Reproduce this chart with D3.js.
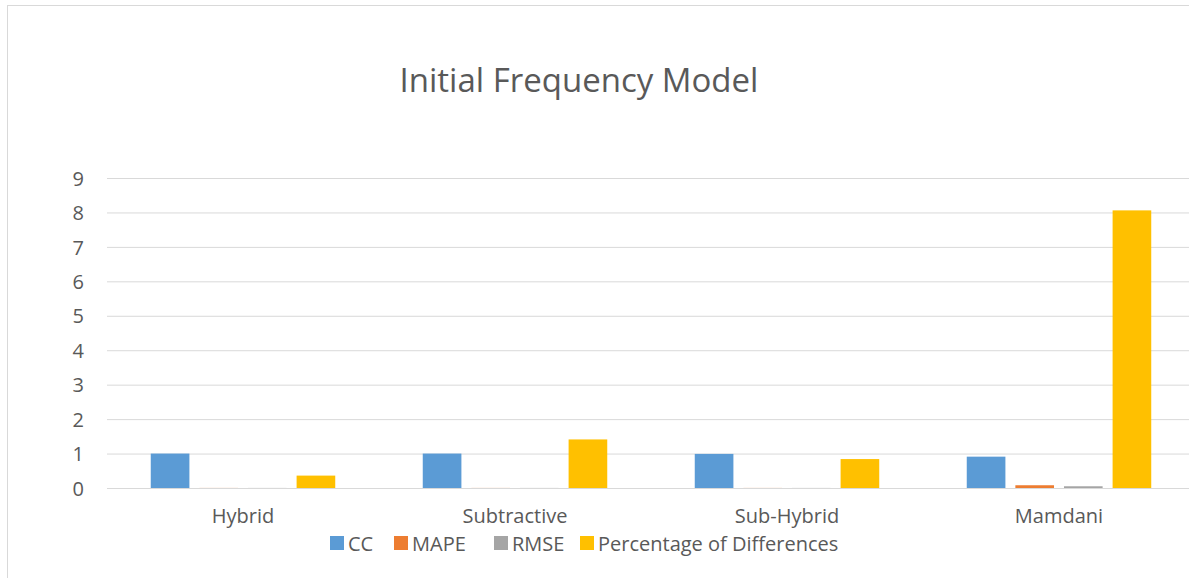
<!DOCTYPE html>
<html>
<head>
<meta charset="utf-8">
<script src="https://cdn.jsdelivr.net/npm/d3@7"></script>
<style>
  html, body { margin: 0; padding: 0; background: #fff; }
  svg { display: block; }
  text { font-family: "Open Sans", Lato, sans-serif; fill: #595959; }
</style>
</head>
<body>
<svg id="chart" width="1189" height="578"></svg>
<script>
// Model names along the x axis
const categories = ["Hybrid", "Subtractive", "Sub-Hybrid", "Mamdani"];
// Metric series
const seriesNames = ["CC", "MAPE", "RMSE", "Percentage of Differences"];
const ccValues = [1.0, 1.0, 0.99, 0.91];
const mapeValues = [0.002, 0.002, 0.002, 0.08];
const rmseValues = [0.002, 0.002, 0.002, 0.05];
const pctDiffValues = [0.36, 1.41, 0.84, 8.06];
const yTicks = [0, 1, 2, 3, 4, 5, 6, 7, 8, 9];
const colors = ["#5B9BD5", "#ED7D31", "#A5A5A5", "#FFC000"];

const seriesValues = [ccValues, mapeValues, rmseValues, pctDiffValues];
const rows = categories.map((c, i) => ({
  category: c,
  values: seriesNames.map((s, j) => ({ series: s, value: seriesValues[j][i], color: colors[j] }))
}));

const svg = d3.select("#chart");
const font = "'Open Sans', Lato, sans-serif";

// Outer chart frame
svg.append("rect")
  .attr("x", 7.5).attr("y", 5.5)
  .attr("width", 1200).attr("height", 600)
  .attr("fill", "none").attr("stroke", "#D9D9D9").attr("stroke-width", 1);

const plot = { left: 107, right: 1195, top: 178, bottom: 488 };

const x = d3.scaleBand()
  .domain(categories)
  .range([plot.left, plot.right])
  .paddingInner(0).paddingOuter(0);

const xInner = d3.scaleBand()
  .domain(seriesNames)
  .range([0, x.bandwidth()])
  .paddingInner(0.205)
  .paddingOuter(0.9);

const y = d3.scaleLinear().domain([0, 9]).range([plot.bottom, plot.top]);

// Gridlines
svg.append("g")
  .selectAll("line")
  .data(yTicks)
  .join("line")
  .attr("x1", plot.left).attr("x2", plot.right)
  .attr("y1", d => y(d) + 0.5).attr("y2", d => y(d) + 0.5)
  .attr("stroke", "#D9D9D9").attr("stroke-width", 1);

// Y axis labels
const yAxis = d3.axisLeft(y).tickValues(yTicks).tickSize(0).tickPadding(0);
const gy = svg.append("g").attr("transform", `translate(${plot.left - 23},0)`).call(yAxis);
gy.select(".domain").remove();
gy.selectAll("text")
  .attr("font-size", 20).attr("dy", "0.36em")
  .style("font-family", font).style("fill", "#595959");

// Bars
const groups = svg.append("g")
  .selectAll("g")
  .data(rows)
  .join("g")
  .attr("transform", d => `translate(${x(d.category)},0)`);

groups.selectAll("rect")
  .data(d => d.values)
  .join("rect")
  .attr("x", d => xInner(d.series))
  .attr("width", xInner.bandwidth())
  .attr("y", d => y(d.value))
  .attr("height", d => y(0) - y(d.value))
  .attr("fill", d => d.color);

// X axis labels
const xAxis = d3.axisBottom(x).tickSize(0).tickPadding(0);
const gx = svg.append("g").attr("transform", `translate(0,${plot.bottom + 35})`).call(xAxis);
gx.select(".domain").remove();
gx.selectAll("text")
  .attr("font-size", 20).attr("dy", 0)
  .style("font-family", font).style("fill", "#595959");

// Title
svg.append("text")
  .attr("x", 579).attr("y", 92)
  .attr("text-anchor", "middle")
  .attr("font-size", 33)
  .text("Initial Frequency Model");

// Legend
const legendX = [330, 394, 494, 580];
const legend = svg.append("g")
  .selectAll("g")
  .data(seriesNames)
  .join("g")
  .attr("transform", (d, i) => `translate(${legendX[i]},536)`);
legend.append("rect")
  .attr("width", 14).attr("height", 14)
  .attr("fill", (d, i) => colors[i]);
legend.append("text")
  .attr("x", 18).attr("y", 15)
  .attr("font-size", 20)
  .text(d => d);
</script>
</body>
</html>
